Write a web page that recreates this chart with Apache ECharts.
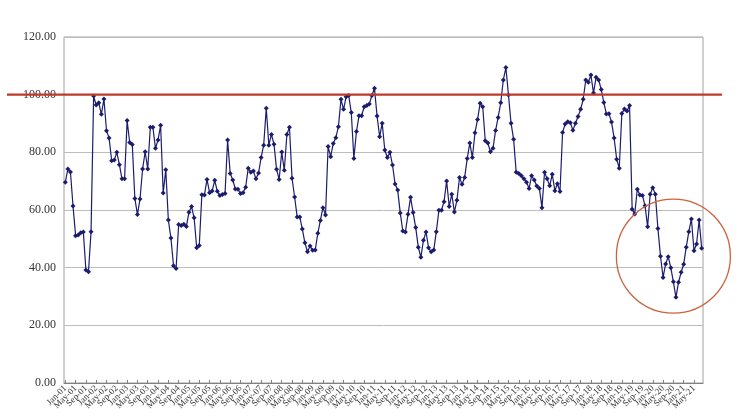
<!DOCTYPE html>
<html>
<head>
<meta charset="utf-8">
<script src="https://cdn.jsdelivr.net/npm/echarts@6/dist/echarts.min.js"></script>
<style>html,body{margin:0;padding:0;background:#fff;}#c{width:740px;height:420px;}</style>
</head>
<body>
<div id="c"></div>
<script>
var monthNames = ['Jan','Feb','Mar','Apr','May','Jun','Jul','Aug','Sep','Oct','Nov','Dec'];
var startYear = 2001, pointCount = 248;
var categories = [];
for (var k = 0; k < pointCount; k++) {
  var yy = startYear + Math.floor(k / 12);
  categories.push(monthNames[k % 12] + '-' + String(yy % 100).padStart(2, '0'));
}
var y2001 = [69.6, 74.2, 73.2, 61.4, 51.1, 51.3, 52.1, 52.4, 39.2, 38.6, 52.5, 99.5];
var y2002 = [96.4, 97.2, 93.2, 98.5, 87.5, 85.0, 77.1, 77.3, 80.0, 75.7, 70.8, 70.8];
var y2003 = [91.0, 83.4, 82.7, 64.0, 58.4, 63.8, 74.2, 80.2, 74.2, 88.7, 88.7, 81.4];
var y2004 = [84.3, 89.4, 65.9, 74.0, 56.5, 50.3, 40.7, 39.7, 55.0, 54.6, 55.1, 54.3];
var y2005 = [59.2, 61.2, 57.3, 46.9, 47.7, 65.3, 65.2, 70.6, 66.0, 66.6, 70.3, 66.5];
var y2006 = [65.0, 65.4, 65.7, 84.3, 72.7, 70.4, 67.3, 67.2, 65.7, 66.0, 67.9, 74.5];
var y2007 = [73.1, 73.5, 70.8, 72.8, 78.2, 82.5, 95.3, 82.5, 86.2, 82.8, 74.1, 70.6];
var y2008 = [80.1, 73.8, 86.2, 88.7, 71.0, 64.5, 57.6, 57.6, 53.4, 48.6, 45.5, 47.5];
var y2009 = [46.0, 46.1, 51.9, 56.4, 60.8, 58.3, 82.0, 78.5, 83.1, 85.1, 88.9, 98.4];
var y2010 = [94.9, 99.3, 99.7, 93.8, 77.9, 87.2, 92.7, 92.7, 95.8, 96.2, 96.8, 99.7];
var y2011 = [102.2, 92.6, 85.4, 90.1, 80.8, 78.2, 80.0, 75.6, 69.0, 66.9, 59.0, 52.7];
var y2012 = [52.4, 58.5, 64.4, 59.1, 53.9, 47.1, 43.6, 49.5, 52.4, 46.9, 45.5, 46.1];
var y2013 = [52.5, 59.9, 59.9, 62.9, 70.1, 61.2, 65.5, 59.3, 63.4, 71.3, 68.9, 71.3];
var y2014 = [77.9, 83.2, 78.2, 86.8, 91.4, 97.0, 95.8, 84.0, 83.2, 80.2, 81.4, 87.6];
var y2015 = [92.1, 97.2, 105.1, 109.4, 99.9, 90.1, 84.5, 73.1, 72.7, 71.9, 70.8, 69.6];
var y2016 = [67.5, 71.9, 70.4, 68.3, 67.5, 60.8, 73.1, 70.8, 68.4, 72.4, 66.7, 69.1];
var y2017 = [66.4, 86.9, 89.8, 90.6, 90.3, 87.7, 90.1, 92.4, 94.9, 98.4, 105.1, 104.3];
var y2018 = [106.8, 100.6, 106.0, 105.1, 101.8, 97.3, 93.3, 93.4, 90.5, 85.0, 77.6, 74.5];
var y2019 = [93.5, 95.0, 94.3, 96.2, 60.3, 58.6, 67.2, 65.2, 65.0, 61.5, 54.2, 65.5];
var y2020 = [67.7, 65.5, 53.6, 44.0, 36.6, 41.3, 43.8, 40.0, 35.1, 29.7, 34.9, 38.4];
var y2021 = [41.2, 47.1, 52.5, 56.9, 45.9, 48.2, 56.5, 46.7];
var values = [].concat(y2001, y2002, y2003, y2004, y2005, y2006, y2007, y2008, y2009, y2010,
  y2011, y2012, y2013, y2014, y2015, y2016, y2017, y2018, y2019, y2020, y2021);
var referenceLevel = 100;
var circleCenter = [236, 44];

var chart = echarts.init(document.getElementById('c'), null, {renderer: 'canvas'});
var serif = 'Liberation Serif, Times New Roman, serif';
var labelStep = 4;
var lastLabelIdx = Math.floor((pointCount - 1) / labelStep) * labelStep;
var lateLabelIdx = lastLabelIdx - labelStep;
function everyStep(i) { return i % labelStep === 0; }
function mainLabels(i) { return i % labelStep === 0 && i !== labelStep && i !== lateLabelIdx; }
function extraLabels(i) { return i === labelStep || i === lateLabelIdx; }
var labelStyle = {rotate: 45, fontFamily: serif, fontSize: 9, color: '#333', margin: 4, hideOverlap: false};
chart.setOption({
  animation: false,
  backgroundColor: '#fff',
  grid: {left: 64, right: 37, top: 37, bottom: 37, show: true, borderColor: '#a0a0a0', borderWidth: 1, backgroundColor: '#fff'},
  xAxis: [{
    type: 'category',
    data: categories,
    boundaryGap: true,
    axisLine: {lineStyle: {color: '#808080', width: 1}},
    axisTick: {show: true, inside: true, length: 3, interval: everyStep, alignWithLabel: true, lineStyle: {color: '#808080'}},
    axisLabel: Object.assign({interval: mainLabels, showMinLabel: true, showMaxLabel: true}, labelStyle),
    splitLine: {show: false}
  }, {
    type: 'category',
    data: categories,
    position: 'bottom',
    offset: 0,
    boundaryGap: true,
    axisLine: {show: false},
    axisTick: {show: false},
    axisLabel: Object.assign({interval: extraLabels, showMinLabel: true, showMaxLabel: true}, labelStyle),
    splitLine: {show: false}
  }],
  yAxis: {
    type: 'value',
    min: 0, max: 120, interval: 20,
    axisLine: {show: false},
    axisTick: {show: false},
    axisLabel: {fontFamily: serif, fontSize: 12, color: '#333', margin: 8, formatter: function (v) { return v.toFixed(2); }},
    splitLine: {lineStyle: {color: '#bdbdbd', width: 1}}
  },
  series: [{
    type: 'line',
    xAxisIndex: 0,
    data: values,
    symbol: 'diamond',
    symbolSize: 5,
    showAllSymbol: true,
    lineStyle: {color: '#1c1c6e', width: 1.2},
    itemStyle: {color: '#1c1c6e'}
  }]
});

var yRef = chart.convertToPixel({yAxisIndex: 0}, referenceLevel);
var cc = chart.convertToPixel({gridIndex: 0}, circleCenter);
chart.setOption({
  graphic: [
    {type: 'line', shape: {x1: 7, y1: yRef, x2: 722, y2: yRef}, style: {stroke: '#c0392b', lineWidth: 2.2}, z: 100},
    {type: 'circle', shape: {cx: cc[0], cy: cc[1], r: 57}, style: {fill: 'none', stroke: '#c8643c', lineWidth: 1.3}, z: 100}
  ]
});
</script>
</body>
</html>
